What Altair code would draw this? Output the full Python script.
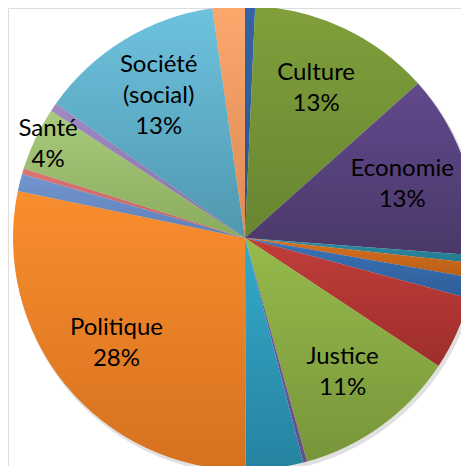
import altair as alt
import pandas as pd

# Slices, clockwise from 12 o'clock
categories = ["Autre 1", "Culture", "Economie", "Autre 2", "Autre 3", "Autre 4", "Autre 5",
              "Justice", "Autre 6", "Autre 7", "Politique", "Autre 8", "Autre 9", "Santé",
              "Autre 10", "Société (social)", "Autre 11"]
values = [0.7, 12.7, 12.8, 0.55, 1.0, 1.45, 5.1, 11.4, 0.25, 4.0, 28.3, 1.2, 0.4, 4.4, 0.6, 12.9, 2.25]
label_names = ["", "Culture", "Economie", "", "", "", "", "Justice", "", "", "Politique", "", "",
               "Santé", "", "Société\n(social)", ""]
colors_top = ["#3565A8", "#7FA03C", "#62498C", "#2E8FA6", "#D6701F", "#3B72B8", "#C03E3A",
              "#96BA4C", "#7A5AA6", "#34A9C9", "#F98E2F", "#7396D0", "#DA7774", "#AACB7E",
              "#A08AC4", "#6EC2DE", "#FAA86C"]
colors_bottom = ["#2A5288", "#688530", "#4A3869", "#25788C", "#B85E18", "#2F5E98", "#9E2E2B",
                 "#77963A", "#654A8A", "#2683A0", "#D6711E", "#5E7FB5", "#C25F5C", "#8AAA5E",
                 "#8570A8", "#4F98AF", "#DE8A55"]

df = pd.DataFrame({"category": categories, "value": values, "name": label_names})
df["order"] = range(len(df))
df["end"] = df["value"].cumsum()
df["start"] = df["end"] - df["value"]
df["mid"] = (df["start"] + df["end"]) / 2
df["label"] = [f"{n}\n{round(v)}%" if n else "" for n, v in zip(df["name"], df["value"])]
df["nlines"] = [s.count("\n") + 1 if s else 0 for s in df["label"]]

CX, CY, R = 237, 230, 232
LH = 31
theta_scale = alt.Scale(domain=[0, 100])

base = alt.Chart(df)

shadow = base.transform_filter("datum.order == 0").mark_arc(
    radius=R + 1, theta=0, theta2=6.2832, color="#000000", opacity=0.12
).encode(x=alt.value(CX + 2), y=alt.value(CY + 3))

layers = [shadow]
for i in range(len(df)):
    grad = alt.LinearGradient(
        gradient="linear", x1=0, y1=0, x2=0, y2=1,
        stops=[alt.GradientStop(offset=0, color=colors_top[i]),
               alt.GradientStop(offset=1, color=colors_bottom[i])]
    )
    layers.append(
        base.transform_filter(f"datum.order == {i}").mark_arc(
            radius=R, fill=grad
        ).encode(
            theta=alt.Theta("start:Q", scale=theta_scale),
            theta2="end:Q",
            x=alt.value(CX), y=alt.value(CY)
        )
    )

text_style = dict(font="Lato", fontSize=24, lineBreak="\n", lineHeight=LH,
                  align="center", baseline="middle", color="#000000")
for big in (True, False):
    for n in (2, 3):
        cond = f"datum.nlines == {n} && " + ("datum.value >= 10" if big else "datum.value < 10")
        layers.append(
            base.transform_filter(cond).mark_text(
                radius=166 if big else 218, dy=-(n - 1) * LH / 2, **text_style
            ).encode(theta=alt.Theta("mid:Q", scale=theta_scale), text="label:N",
                     x=alt.value(CX), y=alt.value(CY))
        )

chart = alt.layer(*layers).properties(
    width=453, height=458, padding=0, autosize="none"
).configure_view(stroke=None).configure(background="#FFFFFF")

chart.save("out.html", embed_options={"renderer": "svg", "actions": False})
